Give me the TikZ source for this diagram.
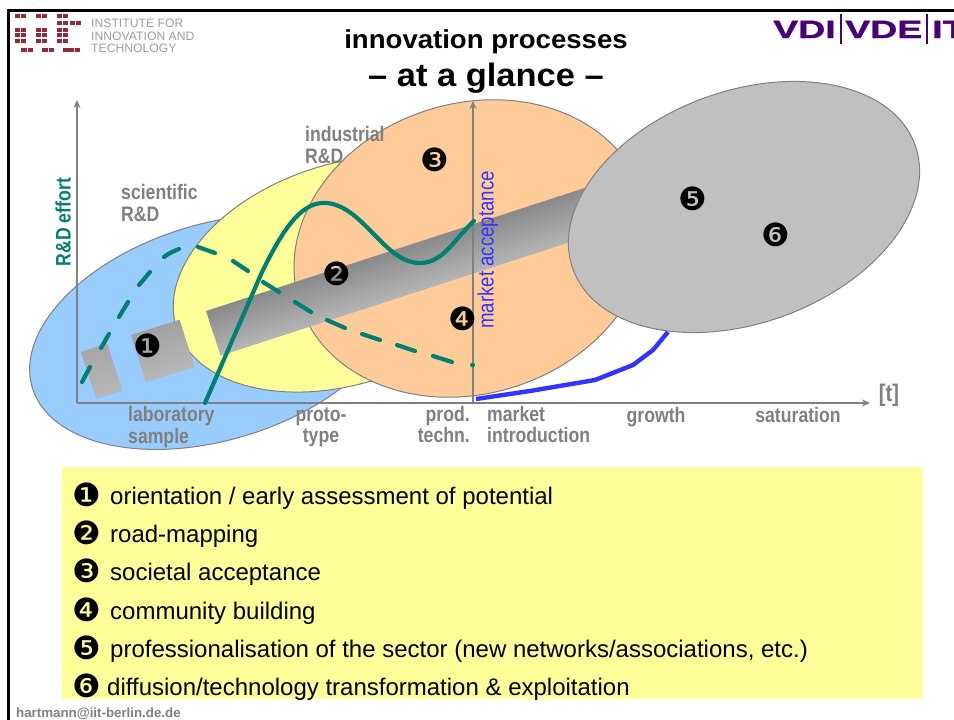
\documentclass[tikz,border=0pt]{standalone}
\usepackage{fontspec}
\setmainfont{Liberation Sans}
\newfontfamily\symf{DejaVu Sans}
\newfontfamily\narrowf[FakeStretch=.84]{Liberation Sans}
\newfontfamily\widef[FakeStretch=1.06]{Liberation Sans}
\newfontfamily\logof[FakeStretch=1.5,FakeBold=1.5]{Liberation Sans}
\usetikzlibrary{arrows.meta}
\definecolor{teal1}{RGB}{0,128,115}
\definecolor{grayt}{RGB}{128,128,128}
\definecolor{blu}{RGB}{51,51,255}
\definecolor{purp}{RGB}{75,0,120}
\definecolor{logor}{RGB}{150,40,60}
\definecolor{skyb}{RGB}{153,204,255}
\definecolor{lemon}{RGB}{255,255,153}
\definecolor{peach}{RGB}{255,204,153}
\definecolor{silver1}{RGB}{192,192,192}
\newcommand{\fs}[2]{\fontsize{#1}{#2}\selectfont}
\tikzset{x=1pt,y=-1pt,
 blob/.style={draw=grayt,line width=1pt},
 axis/.style={draw=grayt,line width=1.2pt,-{Stealth[length=8pt,width=7pt]}},
 lab/.style={text=grayt,font=\narrowf\bfseries\fs{21}{21.5},align=left,inner sep=0pt},
 num/.style={font=\symf\fs{32}{32},inner sep=0pt},
 item/.style={anchor=west,font=\fs{24}{24},inner sep=0pt},
 solidc/.style={draw=teal1,line width=4.2pt,line cap=round},
 dashc/.style={draw=teal1,line width=4.2pt,line cap=round},
 logotxt/.style={anchor=base west,inner sep=0pt,text=purp,font=\logof\bfseries\fs{25}{25}},
 logodot/.style={fill=logor,draw=none}}
\begin{document}
\begin{tikzpicture}
\useasboundingbox (0,0) rectangle (954,720);
\fill[white] (0,0) rectangle (954,720);
% frame
\draw[black,line width=3pt] (8.5,720) -- (8.5,10.5) -- (954,10.5);
% logos
\foreach \x in {15,36,57}{\fill[logodot] (\x,14) rectangle +(5,3.5);\fill[logodot] (\x+6,14) rectangle +(5,3.5);
 \foreach \y in {27.5,33,39}{\fill[logodot] (\x,\y) rectangle +(5,4);\fill[logodot] (\x+6,\y) rectangle +(5,4);}
 \fill[logodot] (\x+6,48) rectangle +(6,3.5);}
\foreach \x in {28,49,69,75}{\fill[logodot] (\x,48) rectangle +(5,3.5);}
\foreach \x in {57,63,70,76}{\fill[logodot] (\x,21) rectangle +(5,3.5);}
\node[anchor=north west,inner sep=0pt,align=left,text=black!38,font=\fs{12.2}{12.6}] (inst) at (91,19) {INSTITUTE FOR\\INNOVATION AND\\TECHNOLOGY};
\node[logotxt] (vdia) at (773,38) {VDI};
\node[logotxt] (vdib) at (845,38) {VDE};
\node[logotxt] (vdic) at (932,38) {IT};
\fill[purp] (839.5,14) rectangle (841.5,44);
\fill[purp] (926,14) rectangle (928,44);
% titles
\node[font=\widef\bfseries\fs{26}{26},inner sep=0pt] (t1) at (486,42) {innovation processes};
\node[font=\widef\bfseries\fs{32.5}{33},inner sep=0pt] (t2) at (486,78) {– at a glance –};
% ellipses
\draw[blob,fill=skyb] (215,332) ellipse [x radius=191,y radius=108,rotate=17];
\draw[blob,fill=lemon] (345,274) ellipse [x radius=177,y radius=110,rotate=18];
\draw[blob,fill=peach] (471,248.5) ellipse [x radius=180,y radius=145,rotate=18];
% bar
\shade[top color=black!35,bottom color=black!28,transform canvas={shift={(81,352)},rotate=18}] (0,0) rectangle (27.5,49.5);
\shade[top color=black!37,bottom color=black!28,transform canvas={shift={(131,335)},rotate=17.5}] (0,0) rectangle (51,49.5);
\shade[top color=black!46,bottom color=black!29,transform canvas={shift={(206,311)},rotate=18}] (0,0) rectangle (420,47);
\draw[blob,fill=silver1] (744,207) ellipse [x radius=182,y radius=116,rotate=20];
% axes
\coordinate (o) at (77,403);
\coordinate (xe) at (870,403);
\coordinate (ye) at (77,100);
\coordinate (m) at (473,403);
\coordinate (me) at (473,101);
\draw[axis] (o) -- (xe);
\draw[axis] (o) -- (ye);
\draw[axis] (m) -- (me);
% curves
\draw[dashc] (82,382) -- (90,367) (101,348) -- (109,334) (119,317) -- (128,302) (139,285) -- (150,272)
 (164,257) .. controls (169,253) and (174,251) .. (179,249)
 (198,247) -- (215,253) (233,261) -- (248,271) (263,282) -- (279,292) (295,302) -- (311,312)
 (327,320) -- (345,328) (362,334) -- (380,340) (397,345) -- (415,351) (433,356) -- (452,362)
 (472,365) -- (473,365);
\draw[solidc] (205,403) -- (262,272) .. controls (285,225) and (303,201) .. (327,203) .. controls (365,207) and (385,265) .. (422,263) .. controls (445,261) and (455,238) .. (474,221);
\draw[draw=blu,line width=4.4pt] (476,399) -- (530,391) -- (595,380) -- (633,365) -- (653,350) -- (668,332);
% labels
\node[lab,rotate=90,text=teal1] (rd) at (63,222) {R\&D effort};
\node[lab,rotate=90,text=blu,font=\narrowf\fs{22.2}{22.5}] (ma) at (488,250) {market acceptance};
\node[lab,anchor=west] (sci) at (121,203) {scientific\\R\&D};
\node[lab,anchor=west] (ind) at (305,145) {industrial\\R\&D};
\node[lab,anchor=west] (ls) at (128,427) {laboratory\\sample};
\node[lab,align=center] (pt) at (321,427.5) {proto-\\type};
\node[lab,anchor=east,align=right] (pr) at (470,424.5) {prod.\\techn.};
\node[lab,anchor=west] (mi) at (487,424.5) {market\\introduction};
\node[lab] (gr) at (656,417) {growth};
\node[lab] (sa) at (798,415) {saturation};
\node[lab,font=\narrowf\bfseries\fs{24}{24}] (tt) at (889,395) {[t]};
% numbers
\node[num] (n1) at (148,346) {❶};
\node[num] (n2) at (337,274) {❷};
\node[num] (n3) at (435,160) {❸};
\node[num] (n4) at (463,319) {❹};
\node[num] (n5) at (693,199) {❺};
\node[num] (n6) at (776,235) {❻};
% legend
\fill[lemon] (62,467) rectangle (923,699);
\node[num] (l1) at (87,495) {❶};
\node[num] (l2) at (87,533) {❷};
\node[num] (l3) at (87,571) {❸};
\node[num] (l4) at (87,610) {❹};
\node[num] (l5) at (87,648) {❺};
\node[num] (l6) at (87,686) {❻};
\node[item] (i1) at (110,498) {orientation / early assessment of potential};
\node[item] (i2) at (110,536) {road-mapping};
\node[item] (i3) at (110,574) {societal acceptance};
\node[item] (i4) at (110,613) {community building};
\node[item] (i5) at (110,651) {professionalisation of the sector (new networks/associations, etc.)};
\node[item] (i6) at (107,689) {diffusion/technology transformation \& exploitation};
\node[anchor=base west,inner sep=0pt,text=grayt,font=\bfseries\fs{13.3}{14}] (mail) at (16,717.5) {hartmann@iit-berlin.de.de};
\end{tikzpicture}
\end{document}
